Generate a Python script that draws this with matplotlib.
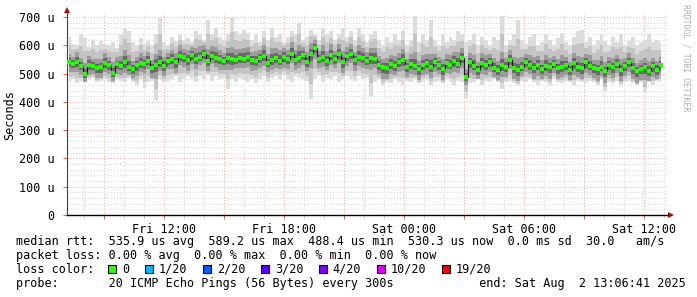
import matplotlib
matplotlib.use('Agg')
import matplotlib.pyplot as plt
from matplotlib.patches import Rectangle
import numpy as np

# smokeping style latency graph, 30h window, ~12 min buckets
start_h = 7.15          # hours since Fri 00:00
step_h = 0.1987

median = [540, 535, 542, 528, 497, 532, 527, 518, 522, 536,
          530, 502, 533, 528, 540, 525, 515, 530, 538, 533,
          545, 520, 530, 540, 528, 545, 550, 540, 562, 558,
          548, 565, 552, 560, 570, 545, 563, 556, 552, 545,
          556, 550, 548, 555, 552, 560, 548, 543, 555, 562,
          538, 548, 556, 545, 560, 550, 570, 548, 556, 565,
          540, 568, 589, 552, 560, 545, 566, 550, 570, 540,
          562, 568, 548, 560, 555, 545, 556, 552, 530, 522,
          518, 535, 526, 540, 548, 522, 535, 528, 515, 530,
          536, 524, 540, 530, 515, 538, 532, 545, 535, 555,
          488, 540, 528, 512, 538, 532, 540, 520, 514, 530,
          525, 548, 520, 512, 525, 540, 530, 520, 532, 515,
          528, 522, 535, 518, 525, 530, 512, 536, 522, 518,
          540, 528, 520, 515, 525, 510, 530, 522, 535, 512,
          528, 540, 518, 508, 515, 522, 508, 526, 512, 530]

ping_max = [630, 605, 600, 640, 625, 595, 620, 600, 615, 605,
            600, 610, 590, 640, 660, 650, 610, 600, 625, 605,
            615, 600, 640, 695, 610, 600, 630, 615, 640, 620,
            625, 610, 650, 640, 620, 690, 640, 660, 630, 620,
            640, 700, 650, 640, 655, 645, 620, 640, 610, 650,
            620, 660, 630, 640, 610, 630, 650, 640, 680, 620,
            630, 655, 640, 620, 660, 640, 650, 620, 640, 660,
            630, 650, 620, 660, 640, 610, 640, 650, 620, 600,
            630, 610, 640, 620, 650, 600, 620, 705, 610, 640,
            620, 690, 620, 600, 640, 610, 630, 620, 650, 640,
            610, 620, 640, 600, 630, 620, 600, 630, 620, 705,
            600, 620, 640, 690, 620, 605, 630, 640, 600, 610,
            640, 620, 600, 625, 645, 610, 600, 630, 650, 655,
            610, 630, 600, 620, 640, 615, 600, 630, 610, 640,
            600, 615, 630, 600, 610, 620, 640, 610, 620, 610]

ping_min = [470, 480, 465, 475, 470, 480, 485, 470, 475, 480,
            470, 465, 480, 475, 470, 485, 470, 460, 480, 450,
            470, 475, 406, 480, 470, 475, 480, 490, 470, 480,
            490, 485, 470, 490, 480, 495, 475, 490, 480, 485,
            447, 480, 470, 485, 478, 470, 480, 465, 480, 490,
            470, 485, 490, 480, 495, 480, 470, 490, 485, 480,
            475, 410, 480, 490, 470, 485, 480, 490, 470, 480,
            490, 480, 475, 490, 480, 485, 420, 470, 480, 460,
            470, 465, 480, 470, 460, 475, 470, 480, 465, 470,
            480, 460, 470, 475, 465, 480, 470, 460, 475, 470,
            413, 465, 470, 480, 460, 475, 470, 480, 470, 445,
            470, 475, 465, 460, 475, 470, 480, 470, 460, 475,
            470, 460, 480, 470, 465, 475, 470, 460, 475, 470,
            465, 475, 470, 460, 480, 438, 470, 465, 475, 460,
            470, 475, 465, 460, 470, 431, 470, 460, 475, 470]

# inner (bulk of pings) spread above / below the median
spread_up = [30, 25, 35, 28, 40, 30, 25, 32, 28, 35, 30, 38, 26, 34, 45, 40, 30, 28, 36, 30,
             32, 28, 40, 45, 30, 28, 35, 32, 38, 30, 34, 30, 40, 36, 30, 42, 35, 38, 30, 28,
             36, 45, 38, 32, 40, 35, 30, 36, 28, 40, 30, 42, 35, 38, 30, 34, 40, 36, 45, 30,
             35, 40, 30, 28, 42, 35, 38, 30, 36, 40, 32, 38, 30, 42, 35, 30, 36, 40, 32, 30,
             38, 30, 36, 32, 40, 28, 34, 48, 30, 36, 32, 45, 30, 28, 38, 30, 34, 32, 40, 36,
             28, 32, 38, 30, 36, 32, 28, 34, 30, 45, 30, 34, 38, 42, 32, 28, 36, 38, 30, 32,
             38, 34, 28, 32, 40, 30, 28, 36, 40, 42, 30, 36, 28, 32, 38, 30, 28, 34, 30, 38,
             28, 32, 36, 30, 32, 34, 38, 30, 34, 30]
spread_dn = [35, 30, 38, 32, 28, 36, 30, 34, 38, 30, 32, 30, 36, 34, 38, 30, 32, 40, 34, 36,
             30, 36, 48, 32, 36, 30, 34, 38, 32, 36, 38, 32, 36, 30, 34, 36, 30, 34, 38, 32,
             42, 36, 30, 34, 32, 36, 38, 30, 34, 36, 32, 36, 38, 30, 40, 34, 32, 36, 38, 34,
             30, 50, 36, 32, 38, 34, 36, 30, 34, 38, 36, 32, 38, 34, 36, 30, 45, 34, 32, 40,
             36, 38, 32, 36, 40, 34, 36, 32, 38, 34, 36, 40, 34, 32, 38, 36, 34, 40, 32, 36,
             30, 38, 34, 32, 40, 36, 34, 32, 36, 42, 36, 32, 38, 40, 34, 36, 32, 38, 40, 34,
             36, 40, 32, 36, 38, 34, 36, 40, 34, 36, 38, 32, 36, 40, 34, 42, 36, 38, 32, 40,
             36, 34, 38, 40, 36, 45, 34, 38, 32, 36]

tick_hours = [12, 18, 24, 30, 36]
tick_labels = ['Fri 12:00', 'Fri 18:00', 'Sat 00:00', 'Sat 06:00', 'Sat 12:00']

loss_labels = ['0', '1/20', '2/20', '3/20', '4/20', '10/20', '19/20']
loss_colors = ['#26ff00', '#00b8ff', '#0059ff', '#5e00ff', '#7e00ff', '#dd00ff', '#ff0000']

legend_rows = [
    'median rtt:  535.9 us avg  589.2 us max  488.4 us min  530.3 us now  0.0 ms sd  30.0   am/s',
    'packet loss: 0.00 % avg  0.00 % max  0.00 % min  0.00 % now',
    'loss color:',
    'probe:       20 ICMP Echo Pings (56 Bytes) every 300s            end: Sat Aug  2 13:06:41 2025',
]

# ---------------------------------------------------------------
W, H = 697, 297
MONO = 'DejaVu Sans Mono'
plt.rcParams['font.family'] = MONO

fig = plt.figure(figsize=(W / 100, H / 100), dpi=100)
ax = fig.add_axes([67 / W, (H - 215) / H, (668 - 67) / W, (215 - 13) / H])

med = np.array(median, float)
lo = np.array(ping_min, float)
hi = np.array(ping_max, float)
q1 = med - np.array(spread_dn)
q3 = med + np.array(spread_up)
t = start_h + step_h * (np.arange(len(med)) + 0.5)

ymax = 700 * 202 / 198
ax.set_xlim(start_h, start_h + (668 - 67) / 20)
ax.set_ylim(0, ymax)

# grid (dotted, red on major)
for h in range(8, 38):
    ax.axvline(h, color='#e6a8a8' if h % 3 == 0 else '#d4d4d4',
               lw=0.7, ls=(0, (1, 2)), zorder=0.5)
for v in range(20, 720, 20):
    ax.axhline(v, color='#e6a8a8' if v % 100 == 0 else '#d4d4d4',
               lw=0.7, ls=(0, (1, 2)), zorder=0.5)

# smoke layers
layers = [
    (lo, hi, '#dcdcdc'),
    ((lo + q1) / 2, (hi + q3) / 2, '#c4c4c4'),
    (q1, q3, '#9c9c9c'),
    ((q1 + med) / 2, (q3 + med) / 2, '#6a6a6a'),
    (med - (med - q1) * 0.15, med + (q3 - med) * 0.15, '#303030'),
]
for a, b, c in layers:
    ax.fill_between(t, a, b, step='mid', color=c, lw=0, zorder=1)

ax.step(t, med, where='mid', color='#1a1a1a', lw=0.8, zorder=2)
ax.plot(t, med, ls='none', marker='s', ms=2.6, mew=0, color=loss_colors[0], zorder=3)

# axes cosmetics
for s in ['top', 'right']:
    ax.spines[s].set_visible(False)
ax.spines['left'].set_color('#404040')
ax.spines['bottom'].set_color('black')
ax.spines['bottom'].set_linewidth(1.0)

major = list(range(9, 37, 3))
ax.set_xticks(major)
ax.set_xticklabels([tick_labels[tick_hours.index(h)] if h in tick_hours else '' for h in major],
                   fontsize=8.5)
ax.set_xticks(range(8, 38), minor=True)
ax.tick_params(axis='x', which='major', length=3, color='#d07070', pad=3)
ax.tick_params(axis='x', which='minor', length=2, color='#c0c0c0')
yt = list(range(0, 800, 100))
ax.set_yticks(yt)
ax.set_yticklabels([f'{v} u' if v else '0' for v in yt], fontsize=8.5)
ax.tick_params(axis='y', length=3, color='#d07070', pad=6)

arrow_c = '#a01010'
ax.plot([0], [1 + 3 / 202], marker='^', ms=5, color=arrow_c, mew=0,
        transform=ax.transAxes, clip_on=False)
ax.plot([1 + 3 / 601], [0], marker='>', ms=5, color=arrow_c, mew=0,
        transform=ax.transAxes, clip_on=False)

fig.text(10 / W, 1 - 115 / H, 'Seconds', rotation=90, ha='center', va='center', fontsize=8.5)
fig.text(686 / W, 1 - 4 / H, 'RRDTOOL / TOBI OETIKER', rotation=270, ha='center', va='top',
         fontsize=5.9, color='#b0b0b0')

# legend block
cw = 7.1
baselines = [245, 259, 273, 287]
for txt, yb in zip(legend_rows, baselines):
    fig.text(16 / W, 1 - yb / H, txt, ha='left', va='baseline', fontsize=8.5)

bx = 108
for lab, col in zip(loss_labels, loss_colors):
    fig.add_artist(Rectangle((bx / W, 1 - 273 / H), 8 / W, 8 / H, transform=fig.transFigure,
                             facecolor=col, edgecolor='black', lw=0.8))
    fig.text((bx + 14) / W, 1 - 273 / H, lab, ha='left', va='baseline', fontsize=8.5)
    bx = bx + 14 + len(lab) * cw + 15.6

fig.savefig('out.png', dpi=100, facecolor='white')
